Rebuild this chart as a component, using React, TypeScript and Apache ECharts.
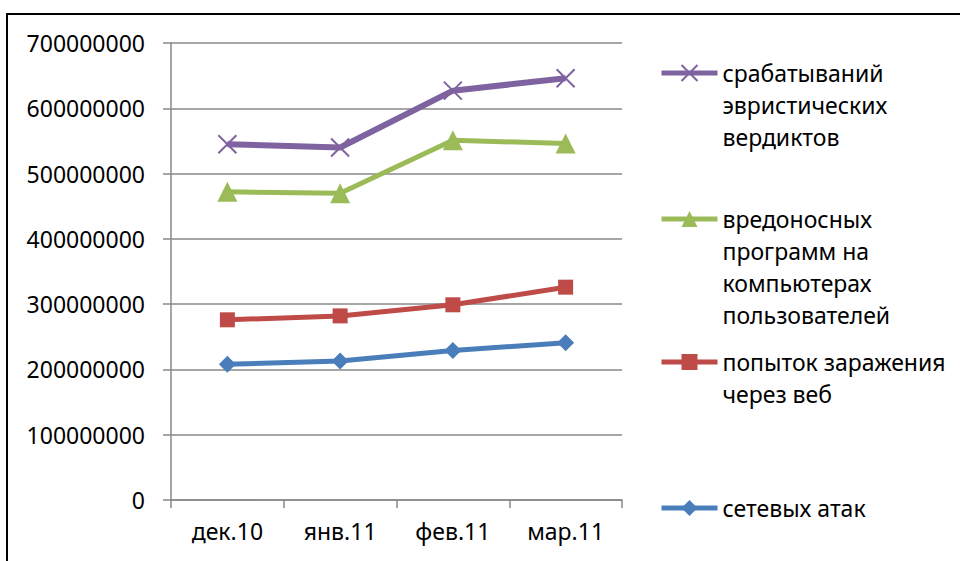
import React, { useEffect, useRef } from "react";
import * as echarts from "echarts";

const categories = ["дек.10", "янв.11", "фев.11", "мар.11"];
const seriesNames = [
  "сетевых атак",
  "попыток заражения\nчерез веб",
  "вредоносных\nпрограмм на\nкомпьютерах\nпользователей",
  "срабатываний\nэвристических\nвердиктов",
];
const networkAttacks = [208000000, 213000000, 229000000, 241000000];
const webInfections = [276000000, 282000000, 299000000, 326000000];
const malwarePrograms = [472000000, 470000000, 551000000, 546000000];
const heuristicVerdicts = [545000000, 540000000, 627000000, 646000000];
const colors = ["#4A7EBB", "#BE4B48", "#9BBB59", "#7F63A1"];
const symbols = [
  "diamond",
  "rect",
  "triangle",
  "path://M0,0L10,10M10,0L0,10",
];
const symbolSizes = [17, 15, 20, 18];
const lineWidths = [5, 5, 5, 6];
const legendIconCenters = [508, 362, 219, 73];

const FONT = "'Noto Sans', sans-serif";
const LINE_H = 32;

export default function App() {
  const ref = useRef<HTMLDivElement>(null);
  useEffect(() => {
    if (!ref.current) return;
    const chart = echarts.init(ref.current, null, { renderer: "svg" });
    const dataSets = [networkAttacks, webInfections, malwarePrograms, heuristicVerdicts];
    const series = seriesNames.map((name, i) => ({
      name,
      type: "line",
      data: dataSets[i],
      symbol: symbols[i],
      symbolSize: symbolSizes[i],
      lineStyle: { color: colors[i], width: lineWidths[i] },
      itemStyle:
        i === 3
          ? { color: "none", borderColor: colors[i], borderWidth: 2 }
          : { color: colors[i], borderWidth: 0 },
      z: 2 + i,
    }));
    const legends = seriesNames.map((name, i) => {
      const n = name.split("\n").length;
      return {
        orient: "vertical",
        left: 659,
        top: legendIconCenters[i] - ((2 * n - 1) * LINE_H) / 2,
        padding: 0,
        itemWidth: 56,
        itemHeight: 20,
        data: [name],
        formatter: (nm: string) => "\n".repeat(n - 1) + nm,
        lineStyle: { width: 5 },
        textStyle: {
          fontFamily: FONT,
          fontSize: 23,
          color: "#000",
          lineHeight: LINE_H,
        },
      };
    });
    chart.setOption({
      animation: false,
      backgroundColor: "#fff",
      grid: { left: 171, right: 338, top: 43, bottom: 61 },
      legend: legends,
      graphic: [
        {
          type: "rect",
          shape: { x: 7, y: 14, width: 960, height: 560 },
          style: { fill: "none", stroke: "#000", lineWidth: 2 },
          silent: true,
        },
      ],
      xAxis: {
        type: "category",
        data: categories,
        boundaryGap: true,
        axisLine: { show: true, lineStyle: { color: "#888", width: 1.5 } },
        axisTick: { show: true, length: 8, lineStyle: { color: "#888", width: 1.5 } },
        axisLabel: { fontFamily: FONT, fontSize: 23, color: "#000", margin: 19 },
        splitLine: { show: false },
      },
      yAxis: {
        type: "value",
        min: 0,
        max: 700000000,
        interval: 100000000,
        axisLine: { show: true, lineStyle: { color: "#888", width: 1.5 } },
        axisTick: { show: true, length: 8, lineStyle: { color: "#888", width: 1.5 } },
        axisLabel: {
          fontFamily: FONT,
          fontSize: 23,
          color: "#000",
          margin: 26,
          formatter: (v: number) => String(v),
        },
        splitLine: { show: true, lineStyle: { color: "#888", width: 1.5 } },
      },
      series,
    });
    return () => chart.dispose();
  }, []);
  return (
    <div
      ref={ref}
      style={{ position: "fixed", left: 0, top: 0, width: 960, height: 561 }}
    />
  );
}
